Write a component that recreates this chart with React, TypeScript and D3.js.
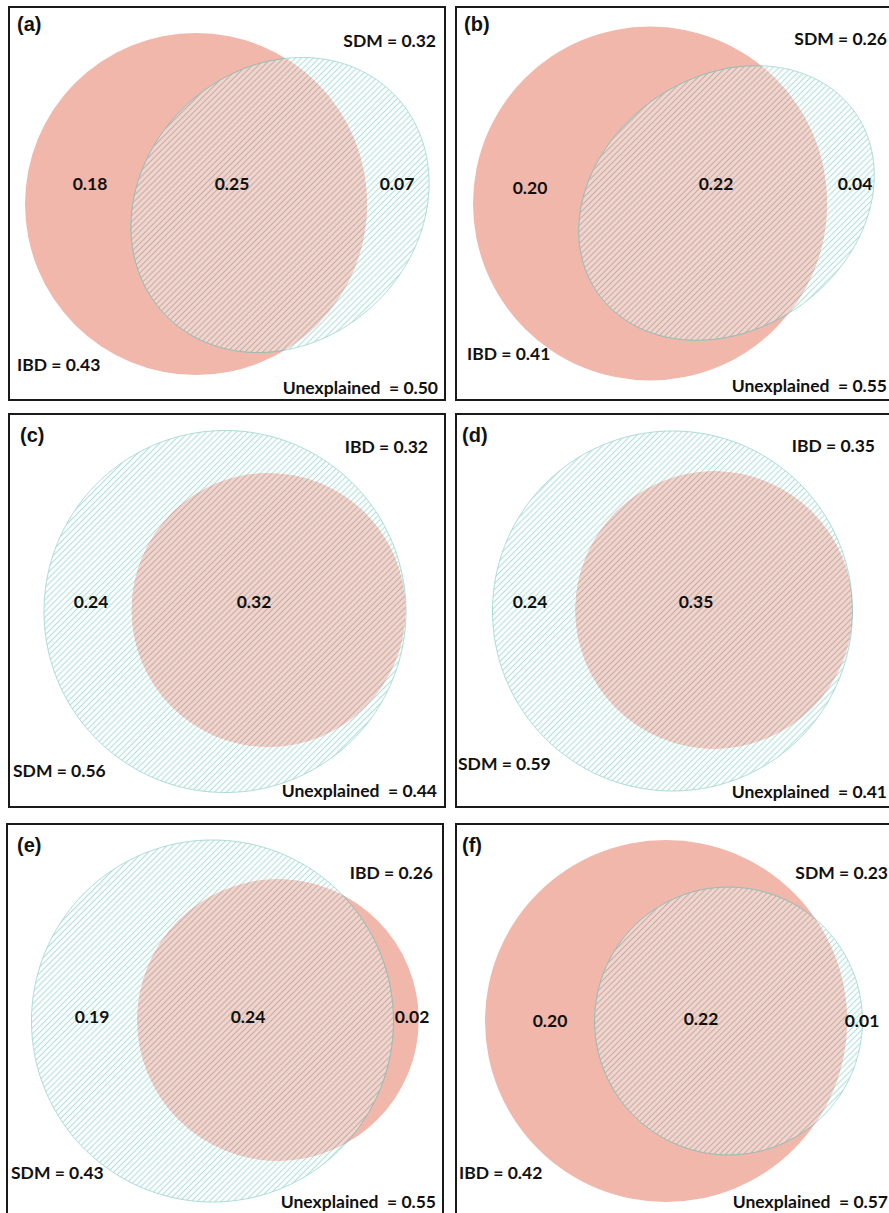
import React from "react";
import * as d3 from "d3";

// variance partitioning values
const panelNames = ["(a)", "(b)", "(c)", "(d)", "(e)", "(f)"];
const ibdTotal = [0.43, 0.41, 0.32, 0.35, 0.26, 0.42];
const sdmTotal = [0.32, 0.26, 0.56, 0.59, 0.43, 0.23];
const unexplained = [0.5, 0.55, 0.44, 0.41, 0.55, 0.57];
const ibdOnly = [0.18, 0.2, null, null, 0.02, 0.2];
const shared = [0.25, 0.22, 0.32, 0.35, 0.24, 0.22];
const sdmOnly = [0.07, 0.04, 0.24, 0.24, 0.19, 0.01];

// layout of each panel (box, shape centres, label anchors)
const layout = [
  {
    box: [9, 7], rmax: 171,
    ibd: [196, 204], sdm: [280, 205], stretch: 1.16, rot: -43,
    title: [17, 31], top: [436, 47], bottom: [17, 371], unexpl: [438, 394],
    ibdLab: [90, 190], sharedLab: [232, 190], sdmLab: [397, 190],
  },
  {
    box: [456, 7], rmax: 177,
    ibd: [650, 203.5], sdm: [726.5, 203], stretch: 1.244, rot: -35,
    title: [464, 31], top: [887, 45], bottom: [467, 360], unexpl: [887, 392],
    ibdLab: [530, 194], sharedLab: [716, 190], sdmLab: [855, 190],
  },
  {
    box: [9, 414], rmax: 181,
    ibd: [268.5, 610], sdm: [225, 611.5], stretch: 1, rot: 0,
    title: [20, 442], top: [428, 453], bottom: [13, 777], unexpl: [437, 797],
    ibdLab: null, sharedLab: [254, 608], sdmLab: [91, 608],
  },
  {
    box: [456, 414], rmax: 180,
    ibd: [714, 610], sdm: [672.5, 611], stretch: 1, rot: 0,
    title: [462, 442], top: [875, 452], bottom: [458, 770], unexpl: [887, 798],
    ibdLab: null, sharedLab: [696, 608], sdmLab: [530, 608],
  },
  {
    box: [7, 824], rmax: 181,
    ibd: [278, 1020], sdm: [212.5, 1021], stretch: 1, rot: 0,
    title: [17, 852], top: [433, 879], bottom: [11, 1179], unexpl: [436, 1208],
    ibdLab: [412, 1023], sharedLab: [248, 1023], sdmLab: [92, 1023],
  },
  {
    box: [456, 824], rmax: 181,
    ibd: [666, 1021], sdm: [728.5, 1021], stretch: 1, rot: 0,
    title: [462, 852], top: [888, 879], bottom: [459, 1179], unexpl: [888, 1208],
    ibdLab: [550, 1027], sharedLab: [701, 1025], sdmLab: [862, 1027],
  },
];

const BOX_W = 436;
const BOX_H = 393;
const RED = "#f2b7ab";
const FONT = "Lato, 'Open Sans', sans-serif";
const fmt = d3.format(".2f");

// rotated ellipse as a closed path (keeps the hatch pattern unrotated)
const ellipsePath = (cx, cy, rx, ry, rotDeg) => {
  const t = (rotDeg * Math.PI) / 180;
  const pts = d3.range(0, 360, 2).map((a) => {
    const u = (a * Math.PI) / 180;
    const x = rx * Math.cos(u);
    const y = ry * Math.sin(u);
    return [cx + x * Math.cos(t) - y * Math.sin(t), cy + x * Math.sin(t) + y * Math.cos(t)];
  });
  return d3.line().curve(d3.curveCardinalClosed.tension(0.5))(pts);
};

const Label = ({ pos, text, anchor = "middle", size = 17.5, family = FONT }) => (
  <text
    x={pos[0]}
    y={pos[1]}
    textAnchor={anchor}
    fontFamily={family}
    fontWeight="bold"
    fontSize={size}
    fill="#111"
    xmlSpace="preserve"
  >
    {text}
  </text>
);

const Panel = ({ i }) => {
  const L = layout[i];
  const r = d3
    .scaleSqrt()
    .domain([0, Math.max(ibdTotal[i], sdmTotal[i])])
    .range([0, L.rmax]);
  const rIbd = r(ibdTotal[i]);
  const rSdm = r(sdmTotal[i]);
  const k = Math.sqrt(L.stretch);
  const sdmD = ellipsePath(L.sdm[0], L.sdm[1], rSdm * k, rSdm / k, L.rot);
  const ibdShape = (props) => <circle cx={L.ibd[0]} cy={L.ibd[1]} r={rIbd} {...props} />;
  const sdmBig = sdmTotal[i] > ibdTotal[i];

  return (
    <g>
      <defs>
        <clipPath id={`sdmclip${i}`}>
          <path d={sdmD} />
        </clipPath>
        <clipPath id={`ibdclip${i}`}>{ibdShape({})}</clipPath>
      </defs>
      <rect
        x={L.box[0]}
        y={L.box[1]}
        width={BOX_W}
        height={BOX_H}
        fill="#fff"
        stroke="#1a1a1a"
        strokeWidth={2}
      />
      <path d={sdmD} fill="url(#hatchTeal)" />
      {ibdShape({ fill: RED })}
      {ibdShape({ fill: "url(#hatchGrey)", clipPath: `url(#sdmclip${i})` })}
      <path d={sdmD} fill="none" stroke="#a8dbd4" strokeWidth={1} />
      <path
        d={sdmD}
        fill="none"
        stroke="#a4b3ab"
        strokeWidth={1}
        clipPath={`url(#ibdclip${i})`}
      />

      <Label
        pos={L.title}
        text={panelNames[i]}
        anchor="start"
        size={20}
        family="'Liberation Sans', Arial, sans-serif"
      />
      <Label
        pos={L.top}
        anchor="end"
        text={sdmBig ? `IBD = ${fmt(ibdTotal[i])}` : `SDM = ${fmt(sdmTotal[i])}`}
      />
      <Label
        pos={L.bottom}
        anchor="start"
        text={sdmBig ? `SDM = ${fmt(sdmTotal[i])}` : `IBD = ${fmt(ibdTotal[i])}`}
      />
      <Label pos={L.unexpl} anchor="end" text={`Unexplained  = ${fmt(unexplained[i])}`} />
      {L.ibdLab && ibdOnly[i] != null && <Label pos={L.ibdLab} text={fmt(ibdOnly[i])} />}
      <Label pos={L.sharedLab} text={fmt(shared[i])} />
      <Label pos={L.sdmLab} text={fmt(sdmOnly[i])} />
    </g>
  );
};

const App = () => {
  return (
    <svg
      width={889}
      height={1213}
      style={{ position: "absolute", left: 0, top: 0, background: "#fff" }}
    >
      <defs>
        <pattern
          id="hatchTeal"
          patternUnits="userSpaceOnUse"
          width={12}
          height={4.2}
          patternTransform="rotate(-45)"
        >
          <rect width={12} height={4.2} fill="#fff" />
          <line x1={0} x2={12} y1={2.1} y2={2.1} stroke="#b0e0da" strokeWidth={1.1} />
        </pattern>
        <pattern
          id="hatchGrey"
          patternUnits="userSpaceOnUse"
          width={12}
          height={4.2}
          patternTransform="rotate(-45)"
        >
          <rect width={12} height={4.2} fill="#f6d4cc" />
          <line x1={0} x2={12} y1={2.1} y2={2.1} stroke="#b9b1ab" strokeWidth={1.1} />
        </pattern>
      </defs>
      {panelNames.map((_, i) => (
        <Panel key={i} i={i} />
      ))}
    </svg>
  );
};

export default App;
